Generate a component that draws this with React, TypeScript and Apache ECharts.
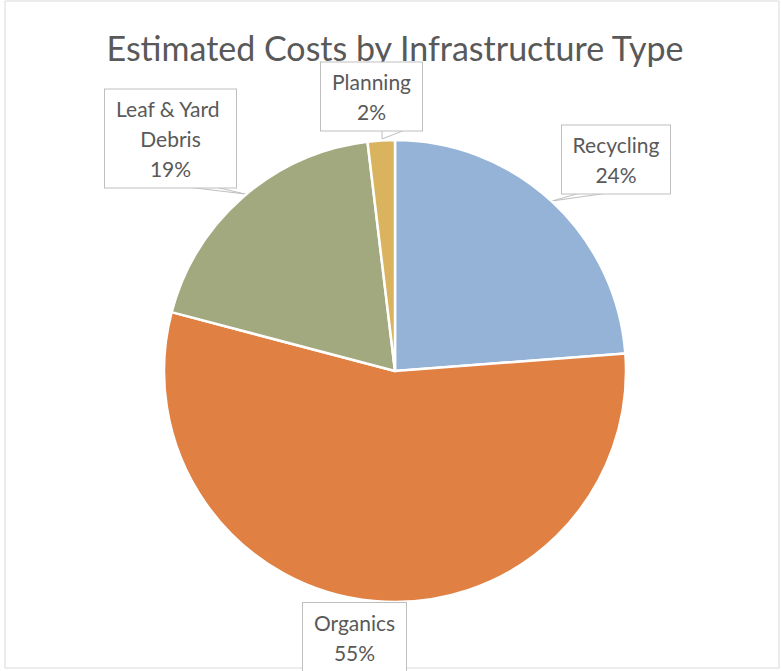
import React, { useEffect, useRef } from "react";
import * as echarts from "echarts";

const categories = ["Recycling", "Organics", "Leaf & Yard Debris", "Planning"];
const values = [23.8, 55.3, 19.0, 1.9];
const colors = ["#95B3D7", "#E08043", "#A3A97E", "#D9B35E"];

// label box centres and callout geometry (layout only)
const labelCenters = [
  [616, 159.5],
  [354.5, 637],
  [170.5, 138.5],
  [371.5, 96.5],
];
const labelWidths = [100, 95, 123, 93];
const calloutPts = [
  [[580, 193], [552, 201], [608, 193]],
  null,
  [[183, 186.5], [245, 194], [213, 186.5]],
  [[382, 130], [382, 139], [405, 130]],
];

export default function App() {
  const ref = useRef<HTMLDivElement>(null);
  useEffect(() => {
    if (!ref.current) return;
    const chart = echarts.init(ref.current, null, { renderer: "svg" });
    const font = "Lato, 'Open Sans', sans-serif";
    chart.setOption({
      animation: false,
      backgroundColor: "#ffffff",
      graphic: [
        {
          type: "rect",
          shape: { x: 5, y: 1, width: 774, height: 667 },
          style: { fill: "none", stroke: "#d9d9d9", lineWidth: 1 },
          z: -1,
        },
        {
          type: "text",
          x: 395,
          y: 47,
          style: {
            text: "Estimated Costs by Infrastructure Type",
            fill: "#595959",
            font: `34px ${font}`,
            textAlign: "center",
            textVerticalAlign: "middle",
          },
        },
      ],
      series: [
        {
          type: "pie",
          center: [395, 371],
          radius: 231,
          startAngle: 90,
          clockwise: true,
          itemStyle: { borderColor: "#ffffff", borderWidth: 2.5 },
          label: {
            show: true,
            formatter: (p: any) => `${p.name}\n${Math.round(p.percent)}%`,
            color: "#595959",
            fontFamily: font,
            fontSize: 21,
            lineHeight: 30,
            align: "center",
            verticalAlign: "middle",
            backgroundColor: "#ffffff",
            borderColor: "#bfbfbf",
            borderWidth: 1,
            padding: [4, 4],
            overflow: "none",
          },
          labelLine: {
            show: true,
            lineStyle: { color: "#bfbfbf", width: 1 },
          },
          emphasis: { disabled: true },
          labelLayout: (params: any) => {
            const i = params.dataIndex;
            const res: any = {
              x: labelCenters[i][0],
              y: labelCenters[i][1],
              align: "center",
              verticalAlign: "middle",
            };
            if (calloutPts[i]) res.labelLinePoints = calloutPts[i];
            else res.labelLinePoints = [[354, 602], [354, 602], [354, 602]];
            return res;
          },
          data: categories.map((name, i) => ({
            name,
            value: values[i],
            itemStyle: { color: colors[i] },
            label: {
              width: labelWidths[i],
              overflow: name.length > 12 ? "break" : "none",
            },
          })),
        },
      ],
    });
    return () => chart.dispose();
  }, []);
  return (
    <div
      ref={ref}
      style={{ position: "fixed", left: 0, top: 0, width: 781, height: 671 }}
    />
  );
}
